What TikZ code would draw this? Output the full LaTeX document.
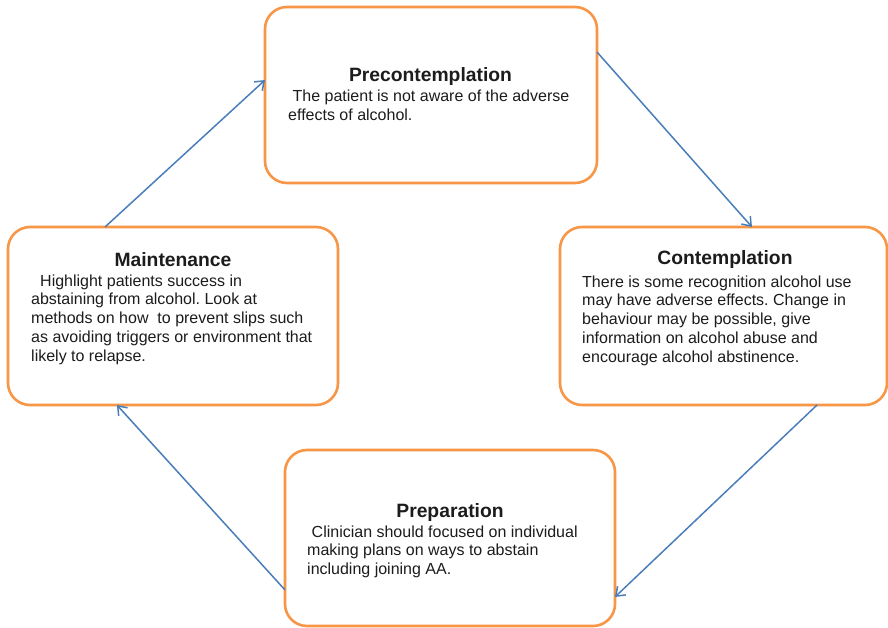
\documentclass[tikz,border=0pt]{standalone}
\usepackage{fontspec}
\setmainfont{Liberation Sans}
\usetikzlibrary{arrows.meta,calc}
\definecolor{boxorange}{HTML}{F79646}
\definecolor{arrowblue}{HTML}{4A7EBB}
\definecolor{txt}{HTML}{1C1C1C}
\frenchspacing
\begin{document}
\begin{tikzpicture}[x=1pt,y=-1pt,
  stagebox/.style={draw=boxorange, line width=2.6pt, rounded corners=22pt, fill=white, inner sep=0pt, outer sep=0pt},
  stagetitle/.style={anchor=base, inner sep=0pt, text=txt, font=\bfseries\fontsize{19.3}{22}\selectfont},
  stagebody/.style={anchor=base west, inner sep=0pt, align=left, text=txt, font=\fontsize{16}{18.8}\selectfont},
  flow/.style={draw=arrowblue, line width=1.5pt, -{Straight Barb[length=8pt,width=12pt,line width=1.5pt]}}
]
\useasboundingbox (0,0) rectangle (888,628);
\fill[white] (0,0) rectangle (888,628);

% boxes
\node[stagebox, minimum width=332pt, minimum height=176pt] (pre) at (431,95) {};
\node[stagebox, minimum width=327pt, minimum height=178pt] (con) at (723.5,316) {};
\node[stagebox, minimum width=330pt, minimum height=178pt] (main) at (173,316) {};
\node[stagebox, minimum width=330pt, minimum height=176pt] (prep) at (450,538) {};

% texts (body nodes anchored at the baseline of their last line)
\node[stagetitle] (preT) at (430.5,82) {Precontemplation};
\node[stagebody] (preB) at (288,120.8) {\hspace*{4.5pt}The patient is not aware of the adverse\\effects of alcohol.};

\node[stagetitle] (conT) at (725,265) {Contemplation};
\node[stagebody] (conB) at (582,362.2) {There is some recognition alcohol use\\may have adverse effects. Change in\\behaviour may be possible, give\\information on alcohol abuse and\\encourage alcohol abstinence.};

\node[stagetitle] (mainT) at (173,266) {Maintenance};
\node[stagebody] (mainB) at (31,361.2) {\hspace*{9pt}Highlight patients success in\\abstaining from alcohol. Look at\\methods on how\ \ to prevent slips such\\as avoiding triggers or environment that\\likely to relapse.};

\node[stagetitle] (prepT) at (450,517) {Preparation};
\node[stagebody] (prepB) at (307,574.6) {\hspace*{4.5pt}Clinician should focused on individual\\making plans on ways to abstain\\including joining AA.};

% connectors
\draw[flow] ($(pre.north east)!0.256!(pre.south east)$) -- ($(con.north west)!0.587!(con.north east)$);
\draw[flow] ($(con.south west)!0.786!(con.south east)$) -- ($(prep.north east)!0.835!(prep.south east)$);
\draw[flow] ($(prep.north west)!0.795!(prep.south west)$) -- ($(main.south west)!0.33!(main.south east)$);
\draw[flow] ($(main.north west)!0.294!(main.north east)$) -- ($(pre.north west)!0.415!(pre.south west)$);
\end{tikzpicture}
\end{document}
